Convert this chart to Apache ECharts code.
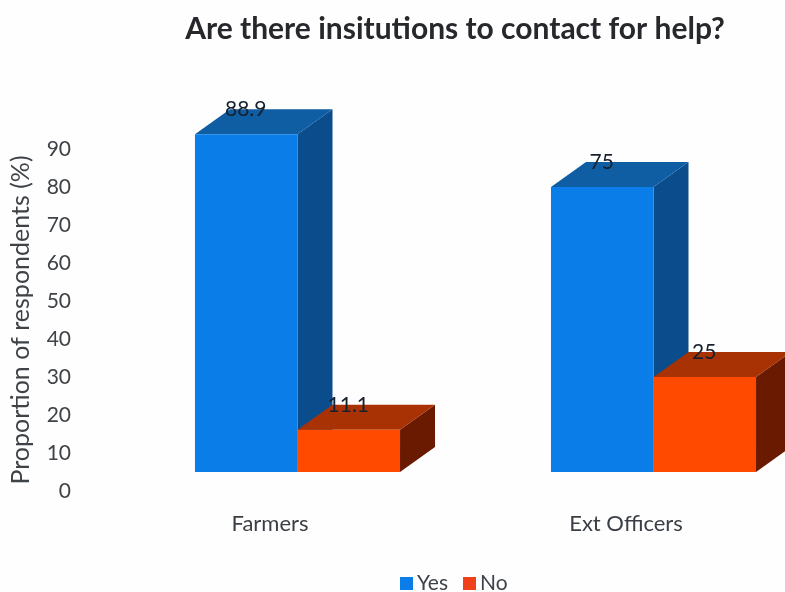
<!DOCTYPE html>
<html>
<head>
<meta charset="utf-8">
<style>html,body{margin:0;padding:0;background:#fff}#chart{width:785px;height:592px}</style>
<script src="https://cdn.jsdelivr.net/npm/echarts@6/dist/echarts.min.js"></script>
</head>
<body>
<div id="chart"></div>
<script>
const categories = ['Farmers', 'Ext Officers'];
const yesValues = [88.9, 75];
const noValues = [11.1, 25];
const tickStep = 10;
const axisMax = 90;

// Projection of the pseudo-3D boxes, in pixels
const floorLift = 19;
const depthX = 35;
const depthY = 25;
const shiftX = 27.5;
const barShare = 0.288;

function boxRenderer(colors, side) {
  return function (params, api) {
    const idx = api.value(0);
    const val = api.value(1);
    const base = api.coord([idx, 0]);
    const head = api.coord([idx, val]);
    const w = api.size([1, 0])[0] * barShare;
    const x0 = base[0] + shiftX + (side < 0 ? -w : 0);
    const x1 = x0 + w;
    const yb = base[1] - floorLift;
    const yt = head[1] - floorLift;
    return {
      type: 'group',
      children: [
        { type: 'polygon', shape: { points: [[x1, yt], [x1 + depthX, yt - depthY], [x1 + depthX, yb - depthY], [x1, yb]] }, style: { fill: colors.side } },
        { type: 'polygon', shape: { points: [[x0, yt], [x0 + depthX, yt - depthY], [x1 + depthX, yt - depthY], [x1, yt]] }, style: { fill: colors.top } },
        { type: 'rect', shape: { x: x0, y: yt, width: w, height: yb - yt }, style: { fill: colors.front } },
        { type: 'text', style: { text: String(val), x: (x0 + x1) / 2 - 0.5, y: yt - depthY, align: 'center', verticalAlign: 'middle', fill: '#16202c', font: '21px Lato' } }
      ]
    };
  };
}

const chart = echarts.init(document.getElementById('chart'), null, { renderer: 'canvas' });
chart.setOption({
  animation: false,
  backgroundColor: '#fefefe',
  title: {
    text: 'Are there insitutions to contact for help?',
    left: 450, top: 9, textAlign: 'center',
    textStyle: { fontFamily: 'Lato', fontWeight: 'bold', fontSize: 30, color: '#26282c' }
  },
  legend: {
    top: 568, left: 395, itemWidth: 13, itemHeight: 13, itemGap: 15, icon: 'rect',
    textStyle: { fontFamily: 'Lato', fontSize: 21, color: '#3d444c', padding: [0, 0, 0, -1] },
    data: ['Yes', 'No']
  },
  grid: { left: 92, width: 712, top: 149, height: 342, outerBoundsMode: 'none' },
  xAxis: {
    type: 'category', data: categories,
    axisLine: { show: false }, axisTick: { show: false },
    axisLabel: { fontFamily: 'Lato', fontSize: 22, color: '#3a3f45', margin: 22 }
  },
  yAxis: {
    type: 'value', min: 0, max: axisMax, interval: tickStep,
    name: 'Proportion of respondents (%)', nameLocation: 'middle', nameGap: 59,
    nameTextStyle: { fontFamily: 'Lato', fontSize: 25, color: '#3f4348' },
    axisLine: { show: false }, axisTick: { show: false }, splitLine: { show: false },
    axisLabel: { fontFamily: 'Lato', fontSize: 21, color: '#3f4348', margin: 21, padding: [4, 0, 0, 0] }
  },
  series: [
    {
      name: 'Yes', type: 'custom', itemStyle: { color: '#0b7de8' },
      renderItem: boxRenderer({ front: '#0b7de8', top: '#0f5da3', side: '#0a4c8c' }, -1),
      encode: { x: 0, y: 1 },
      data: yesValues.map((v, i) => [i, v])
    },
    {
      name: 'No', type: 'custom', itemStyle: { color: '#f0401a' },
      renderItem: boxRenderer({ front: '#ff4a00', top: '#a83204', side: '#6a1a00' }, 1),
      encode: { x: 0, y: 1 },
      data: noValues.map((v, i) => [i, v])
    }
  ]
});
</script>
</body>
</html>
